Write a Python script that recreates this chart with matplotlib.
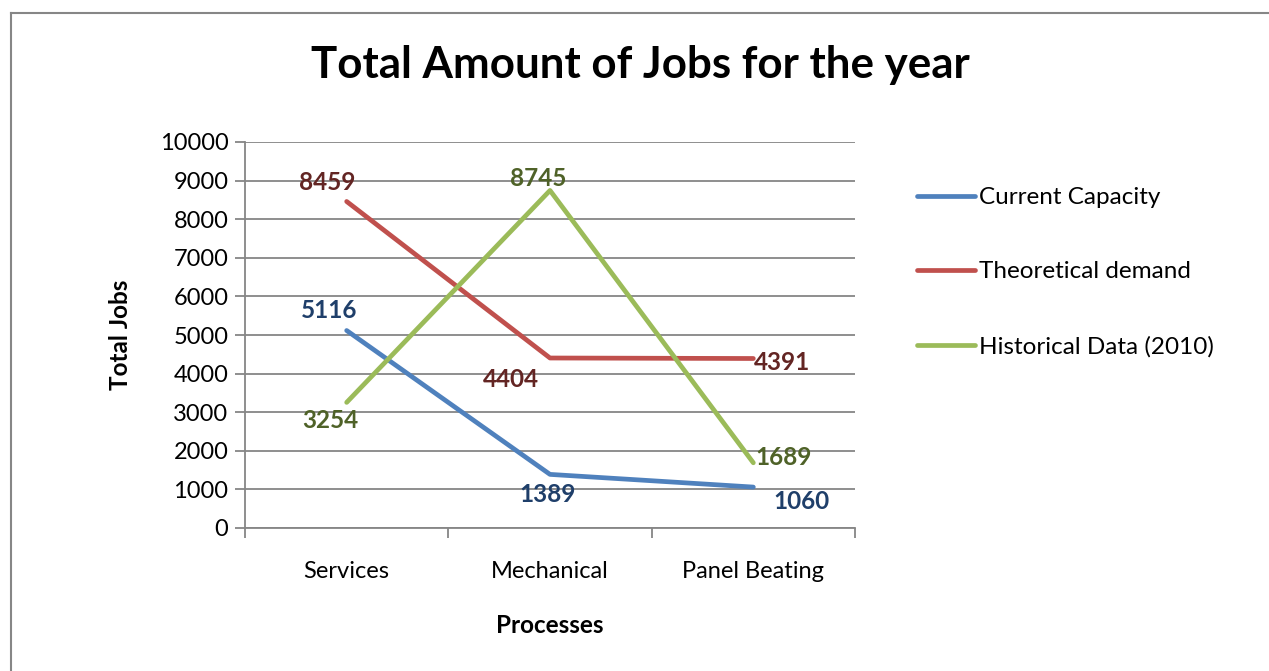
import matplotlib.pyplot as plt
from matplotlib.lines import Line2D

# Jobs per process for the year
processes = ["Services", "Mechanical", "Panel Beating"]
current_capacity = [5116, 1389, 1060]
theoretical_demand = [8459, 4404, 4391]
historical_2010 = [3254, 8745, 1689]

series_names = ["Current Capacity", "Theoretical demand", "Historical Data (2010)"]
line_colors = ["#4F81BD", "#C0504D", "#9BBB59"]
label_colors = ["#1F3F6A", "#632523", "#4F6228"]

# where each value label sits relative to its point (pixels, y down)
label_offsets = [
    [(-18, -20), (-2, 20), (48, 14)],
    [(-19, -19), (-39, 21), (29, 4)],
    [(-16, 18), (-12, -12), (30, -5)],
]

GRID = "#868686"
FONT = "Lato"

plt.rcParams["font.family"] = [FONT, "DejaVu Sans"]

fig = plt.figure(figsize=(12.69, 6.71), dpi=100)
ax = fig.add_axes([245 / 1269, 1 - 528 / 671, 610 / 1269, 386 / 671])

x = range(len(processes))
all_series = [current_capacity, theoretical_demand, historical_2010]
for values, name, color, lcolor, offsets in zip(
    all_series, series_names, line_colors, label_colors, label_offsets
):
    ax.plot(x, values, color=color, lw=3.4, solid_capstyle="round",
            solid_joinstyle="round", label=name, zorder=3)
    for xi, v, (dx, dy) in zip(x, values, offsets):
        ax.annotate(str(v), (xi, v), xytext=(dx * 0.72, -dy * 0.72),
                    textcoords="offset points", ha="center", va="center",
                    fontsize=17.5, fontweight="bold", color=lcolor, zorder=4)

ax.set_xlim(-0.5, 2.5)
ax.set_ylim(0, 10000)
ax.set_yticks(range(0, 10001, 1000))
ax.yaxis.grid(True, color=GRID, lw=1.3)
ax.set_axisbelow(True)

ax.set_xticks(list(x))
ax.set_xticklabels(processes)
ax.set_xticks([-0.5, 0.5, 1.5, 2.5], minor=True)
ax.tick_params(axis="x", which="major", length=0, pad=24, labelsize=17)
ax.tick_params(axis="x", which="minor", length=7, width=1.3, color=GRID)
ax.tick_params(axis="y", length=7, width=1.3, color=GRID, labelsize=17, pad=5)

for side in ["top", "right"]:
    ax.spines[side].set_visible(False)
for side in ["left", "bottom"]:
    ax.spines[side].set_color(GRID)
    ax.spines[side].set_linewidth(1.3)

ax.set_ylabel("Total Jobs", fontsize=17.5, fontweight="bold", labelpad=20)
ax.set_xlabel("Processes", fontsize=17.5, fontweight="bold", labelpad=23)

fig.text(640 / 1269, 1 - 65 / 671, "Total Amount of Jobs for the year",
         ha="center", va="center", fontsize=31.6, fontweight="bold")

ax.legend(loc="upper left", bbox_to_anchor=(917 / 1269, 1 - 187 / 671),
          bbox_transform=fig.transFigure, frameon=False, fontsize=17.5,
          handlelength=2.4, handletextpad=0.15, labelspacing=2.2,
          borderaxespad=0, borderpad=0)

# chart frame: left and top edges
fig.add_artist(Line2D([11 / 1269, 11 / 1269], [0, 1 - 13 / 671],
                      transform=fig.transFigure, color=GRID, lw=1.5))
fig.add_artist(Line2D([11 / 1269, 1], [1 - 13 / 671, 1 - 13 / 671],
                      transform=fig.transFigure, color=GRID, lw=1.5))

fig.savefig("out.png", dpi=100)
